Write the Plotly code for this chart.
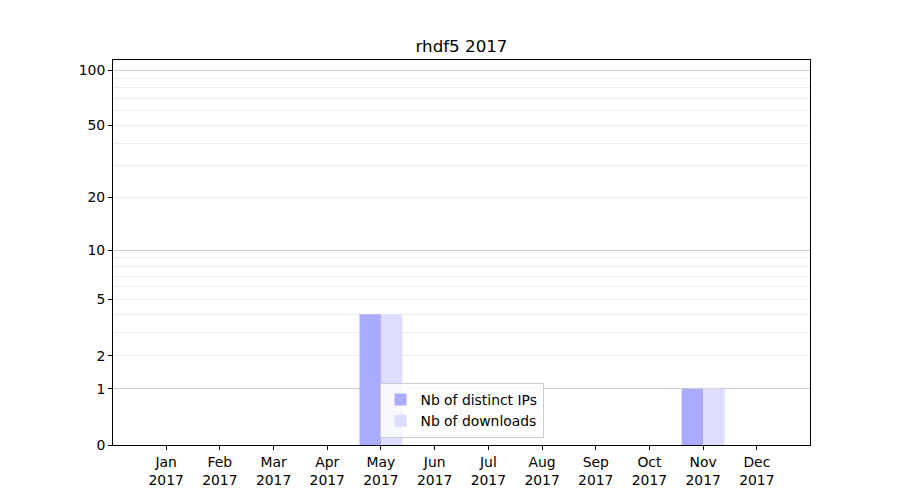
import plotly.graph_objects as go

months = ["Jan", "Feb", "Mar", "Apr", "May", "Jun", "Jul", "Aug", "Sep", "Oct", "Nov", "Dec"]
year = "2017"
distinct_ips = [0, 0, 0, 0, 4, 0, 0, 0, 0, 0, 1, 0]
downloads = [0, 0, 0, 0, 4, 0, 0, 0, 0, 0, 1, 0]

y_tick_values = [0, 1, 2, 5, 10, 20, 50, 100]
y_major_grid = [1, 10, 100]
y_minor_grid = [3, 4, 6, 7, 8, 9, 30, 40, 60, 70, 80, 90]

FONT = "DejaVu Sans"
IP_COLOR = "#aaaaff"
DL_COLOR = "#ddddff"

# axis shows log10(1 + value): plotted on a log axis with base 1
shift = lambda vals: [v + 1 for v in vals]

W, H = 892, 492  # page body has an 8px margin

fig = go.Figure()
fig.add_trace(go.Bar(
    x=months, y=distinct_ips, base=1, name="Nb of distinct IPs",
    marker=dict(color=IP_COLOR, line=dict(width=0)),
    offset=-0.4, width=0.4,
))
fig.add_trace(go.Bar(
    x=months, y=downloads, base=1, name="Nb of downloads",
    marker=dict(color=DL_COLOR, line=dict(width=0)),
    offset=0.0, width=0.4,
))
# helper trace so the overlay axis (darker grid lines) is drawn
fig.add_trace(go.Scatter(x=[months[0]], y=[1], yaxis="y2", mode="markers",
                         marker=dict(opacity=0), showlegend=False, hoverinfo="skip"))

yrange = [0, 2.0578]

fig.update_layout(
    width=W, height=H,
    paper_bgcolor="white", plot_bgcolor="white",
    font=dict(family=FONT, size=13.9, color="black"),
    margin=dict(l=105, r=90, t=52, b=55),
    title=dict(text="rhdf5 2017", x=0.5, xref="paper", xanchor="center",
               y=1 - 38 / H, yref="container", yanchor="middle",
               font=dict(size=16.7, family=FONT, color="black")),
    barmode="overlay",
    showlegend=True,
    legend=dict(x=0.5, xanchor="center", y=0.018, yanchor="bottom",
                bgcolor="rgba(255,255,255,0.8)", bordercolor="#cccccc", borderwidth=1,
                font=dict(size=13.9, family=FONT)),
    xaxis=dict(
        type="category", categoryorder="array", categoryarray=months,
        tickmode="array", tickvals=months,
        ticktext=[f"{m}<br>{year}" for m in months],
        range=[-0.99, 11.99],
        showgrid=False, zeroline=False,
        showline=True, linecolor="black", linewidth=1, mirror=True,
        ticks="outside", ticklen=4, tickwidth=1, tickcolor="black",
    ),
    yaxis=dict(
        type="log", range=yrange,
        tickmode="array", tickvals=shift(y_tick_values),
        ticktext=[str(v) for v in y_tick_values],
        showgrid=True, gridcolor="#ececec", gridwidth=1,
        minor=dict(tickmode="array", tickvals=shift(y_minor_grid), showgrid=True,
                   gridcolor="#ececec", gridwidth=1, ticks=""),
        zeroline=False,
        showline=True, linecolor="black", linewidth=1, mirror=True,
        ticks="outside", ticklen=4, tickwidth=1, tickcolor="black",
    ),
    yaxis2=dict(
        type="log", range=yrange, overlaying="y", anchor="x", side="left",
        tickmode="array", tickvals=shift(y_major_grid),
        showticklabels=False, ticks="",
        showgrid=True, gridcolor="#cfcfcf", gridwidth=1,
        zeroline=False, showline=False,
    ),
)

fig.write_html("out.html")
